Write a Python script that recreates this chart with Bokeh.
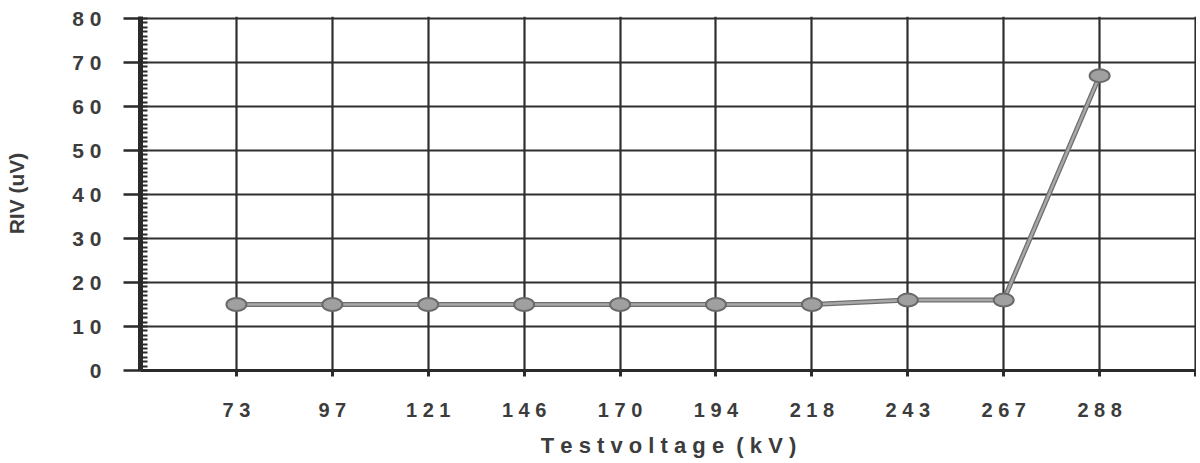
from bokeh.plotting import figure
from bokeh.models import FixedTicker, SingleIntervalTicker, Range1d
from bokeh.embed import file_html
from bokeh.resources import INLINE

# data
voltages = ["73", "97", "121", "146", "170", "194", "218", "243", "267", "288"]
riv = [15, 15, 15, 15, 15, 15, 15, 16, 16, 67]
y_ticks = [0, 10, 20, 30, 40, 50, 60, 70, 80]
x_title = "Testvoltage (kV)"
y_title = "RIV (uV)"

xs = list(range(1, len(voltages) + 1))
spaced = lambda s: " ".join(list(s))

p = figure(frame_width=1056, frame_height=354, output_backend="svg", toolbar_location=None,
           x_range=Range1d(0, 11.01), y_range=Range1d(0, 80.45),
           min_border_left=140, min_border_right=0, min_border_top=16,
           min_border_bottom=86)
p.outline_line_color = None
p.background_fill_color = "white"

# grids
p.xgrid.ticker = FixedTicker(ticks=xs + [11])
p.ygrid.ticker = FixedTicker(ticks=y_ticks)
for g in (p.xgrid, p.ygrid):
    g.grid_line_color = "#2e2e2e"
    g.grid_line_width = 2.2
    g.grid_line_alpha = 1

font = "Liberation Sans"
txt_color = "#3c3c3c"

# x axis
p.xaxis.ticker = FixedTicker(ticks=xs + [11])
p.xaxis.major_label_overrides = {x: spaced(v) for x, v in zip(xs, voltages)}
p.xaxis.major_label_overrides[11] = ""
p.xaxis.axis_line_width = 3
p.xaxis.axis_line_color = "#2a2a2a"
p.xaxis.major_tick_out = 6
p.xaxis.major_tick_in = 0
p.xaxis.major_tick_line_width = 3
p.xaxis.major_tick_line_color = "#2a2a2a"
p.xaxis.minor_tick_line_color = None
p.xaxis.major_label_standoff = 22
p.xaxis.major_label_text_font = font
p.xaxis.major_label_text_font_style = "bold"
p.xaxis.major_label_text_font_size = "20px"
p.xaxis.major_label_text_color = txt_color
p.xaxis.axis_label = "T e s t v o l t a g e \u00a0( k V )"
p.xaxis.axis_label_text_font = font
p.xaxis.axis_label_text_font_style = "bold"
p.xaxis.axis_label_text_font_size = "22px"
p.xaxis.axis_label_text_color = txt_color
p.xaxis.axis_label_standoff = 9

# y axis
p.yaxis.ticker = SingleIntervalTicker(interval=10, num_minor_ticks=10)
p.yaxis.major_label_overrides = {t: spaced(str(t)) for t in y_ticks}
p.yaxis.axis_line_width = 5
p.yaxis.axis_line_color = "#2a2a2a"
p.yaxis.major_tick_out = 17
p.yaxis.major_tick_in = 0
p.yaxis.major_tick_line_width = 2.5
p.yaxis.major_tick_line_color = "#2a2a2a"
p.yaxis.minor_tick_in = 7
p.yaxis.minor_tick_out = 0
p.yaxis.minor_tick_line_width = 2
p.yaxis.minor_tick_line_color = "#2a2a2a"
p.yaxis.major_label_standoff = 22
p.yaxis.major_label_text_font = font
p.yaxis.major_label_text_font_style = "bold"
p.yaxis.major_label_text_font_size = "21px"
p.yaxis.major_label_text_color = txt_color
p.yaxis.axis_label = y_title
p.yaxis.axis_label_text_font = font
p.yaxis.axis_label_text_font_style = "bold"
p.yaxis.axis_label_text_font_size = "21px"
p.yaxis.axis_label_text_color = txt_color
p.yaxis.axis_label_standoff = 41

# series
p.line(xs, riv, line_color="#6e6e6e", line_width=5)
p.line(xs, riv, line_color="#a8a8a8", line_width=2.5)
p.ellipse(xs, riv, width=20, height=13, width_units="screen", height_units="screen",
          fill_color="#a0a0a0", line_color="#6a6a6a", line_width=2)

open("out.html", "w").write(file_html(p, INLINE))
